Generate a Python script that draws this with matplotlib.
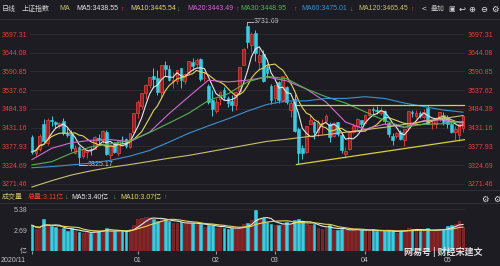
import matplotlib

matplotlib.use("Agg")

import matplotlib.pyplot as plt
import numpy as np
import pandas as pd

plt.rcParams["font.family"] = ["Liberation Sans", "Noto Sans CJK SC", "DejaVu Sans"]

# ---- data (SSE composite, daily) ----
dates = (
    [f"2020-11-{d:02d}" for d in (25, 26, 27, 30)]
    + [f"2020-12-{d:02d}" for d in (1, 2, 3, 4, 7, 8, 9, 10, 11, 14, 15, 16, 17, 18,
                                    21, 22, 23, 24, 25, 28, 29, 30, 31)]
    + [f"2021-01-{d:02d}" for d in (4, 5, 6, 7, 8, 11, 12, 13, 14, 15, 18, 19, 20, 21,
                                    22, 25, 26, 27, 28, 29)]
    + [f"2021-02-{d:02d}" for d in (1, 2, 3, 4, 5, 8, 9, 10, 18, 19, 22, 23, 24, 25, 26)]
    + [f"2021-03-{d:02d}" for d in (1, 2, 3, 4, 5, 8, 9, 10, 11, 12, 15, 16, 17, 18, 19,
                                    22, 23, 24, 25, 26, 29, 30, 31)]
    + [f"2021-04-{d:02d}" for d in (1, 2, 6, 7, 8, 9, 12, 13, 14, 15, 16, 19, 20, 21, 22,
                                    23, 26, 27, 28, 29, 30)]
    + [f"2021-05-{d:02d}" for d in (6, 7, 10, 11, 12)]
)

opens = [3404, 3358, 3371, 3440, 3388, 3453, 3446, 3437, 3449, 3414, 3412, 3360, 3375,
         3351, 3361, 3370, 3371, 3402, 3397, 3420, 3352, 3386, 3360, 3399, 3399, 3376,
         3419, 3474, 3493, 3530, 3552, 3577, 3572, 3531, 3609, 3597, 3565, 3564, 3601,
         3564, 3590, 3619, 3612, 3625, 3571, 3550, 3510, 3478, 3513, 3539, 3516, 3508,
         3496, 3535, 3610, 3720, 3666, 3700, 3619, 3640, 3603, 3550, 3516, 3561, 3509,
         3548, 3480, 3512, 3426, 3374, 3361, 3441, 3448, 3418, 3442, 3449, 3442, 3406,
         3447, 3410, 3356, 3370, 3420, 3437, 3452, 3444, 3468, 3484, 3480, 3474, 3479,
         3445, 3406, 3406, 3418, 3397, 3430, 3474, 3465, 3473, 3461, 3488, 3440, 3441,
         3457, 3466, 3459, 3442, 3419, 3410, 3430]
highs = [3409, 3373, 3412, 3456, 3457, 3465, 3451, 3447, 3459, 3429, 3424, 3382, 3378,
         3372, 3370, 3376, 3407, 3413, 3424, 3423, 3384, 3390, 3397, 3407, 3401, 3414,
         3474, 3511, 3528, 3556, 3576, 3600, 3594, 3609, 3620, 3608, 3588, 3596, 3601,
         3587, 3621, 3628, 3628, 3630, 3590, 3554, 3537, 3515, 3534, 3546, 3521, 3524,
         3535, 3604, 3658, 3731.69, 3702, 3709, 3658, 3651, 3612, 3555, 3552, 3565, 3577,
         3550, 3507, 3528, 3434, 3383, 3437, 3467, 3451, 3452, 3456, 3471, 3446, 3446,
         3447, 3418, 3375, 3422, 3443, 3457, 3453, 3470, 3484, 3491, 3492, 3491, 3482,
         3448, 3416, 3420, 3425, 3427, 3478, 3481, 3480, 3479, 3484, 3496, 3449, 3460,
         3475, 3475, 3466, 3451, 3435, 3443, 3466]
lows = [3357, 3350, 3364, 3390, 3382, 3435, 3430, 3430, 3411, 3405, 3365, 3357, 3325.17,
        3346, 3344, 3354, 3370, 3385, 3388, 3352, 3343, 3360, 3350, 3384, 3372, 3374,
        3417, 3457, 3485, 3513, 3545, 3544, 3525, 3515, 3578, 3564, 3544, 3554, 3543,
        3556, 3583, 3596, 3603, 3564, 3565, 3497, 3464, 3474, 3495, 3510, 3491, 3479,
        3482, 3535, 3609, 3657, 3647, 3620, 3598, 3560, 3572, 3497, 3502, 3501, 3505,
        3497, 3462, 3418, 3328, 3343, 3358, 3440, 3400, 3408, 3412, 3448, 3389, 3404,
        3407, 3360, 3345, 3368, 3417, 3425, 3432, 3444, 3463, 3464, 3469, 3466, 3442,
        3405, 3382, 3401, 3397, 3378, 3425, 3462, 3458, 3459, 3455, 3440, 3426, 3430,
        3451, 3439, 3431, 3416, 3395, 3394, 3418]
closes = [3362.33, 3369.73, 3408.31, 3391.76, 3451.94, 3449.38, 3442.14, 3444.58,
          3416.60, 3410.18, 3371.96, 3373.28, 3347.19, 3369.12, 3367.23, 3366.98,
          3404.87, 3394.90, 3420.57, 3356.78, 3382.32, 3363.11, 3396.56, 3397.29,
          3379.04, 3414.45, 3473.07, 3502.96, 3528.68, 3550.88, 3576.20, 3570.11,
          3531.50, 3608.34, 3598.65, 3565.90, 3566.38, 3596.22, 3566.12, 3583.09,
          3621.26, 3606.75, 3624.24, 3569.43, 3573.34, 3505.18, 3483.07, 3505.28,
          3533.68, 3517.31, 3501.86, 3496.33, 3532.44, 3603.49, 3655.09, 3675.36,
          3696.17, 3642.44, 3636.36, 3564.08, 3585.05, 3509.08, 3551.40, 3508.59,
          3576.90, 3503.49, 3501.99, 3421.41, 3359.29, 3357.74, 3436.83, 3453.08,
          3419.95, 3446.73, 3445.55, 3463.07, 3404.66, 3443.44, 3411.51, 3367.06,
          3363.59, 3418.33, 3435.30, 3456.68, 3441.91, 3466.33, 3484.39, 3482.48,
          3479.63, 3482.55, 3450.68, 3412.95, 3396.47, 3416.78, 3398.99, 3426.62,
          3477.55, 3472.94, 3472.93, 3465.11, 3474.17, 3441.17, 3442.61, 3457.07,
          3474.90, 3446.86, 3441.28, 3418.87, 3427.99, 3441.85, 3462.75]
# volume, 亿
volumes = [3.30, 2.85, 2.95, 4.10, 3.40, 3.15, 3.10, 2.80, 2.90, 2.60, 2.95,
           2.55, 2.40, 2.30, 2.40, 2.25, 2.70, 2.60, 2.75, 3.00, 2.55,
           2.50, 2.45, 2.55, 2.50, 2.80, 3.30, 4.15, 4.20, 4.40, 4.35,
           4.10, 3.85, 4.20, 4.05, 3.80, 3.55, 3.60, 3.70, 3.40, 3.65,
           3.55, 3.50, 3.45, 3.10, 3.35, 3.30, 2.95, 3.05, 3.00, 2.85,
           2.95, 2.80, 3.05, 3.40, 3.55, 4.00, 5.25, 4.20, 4.20, 3.75,
           3.45, 3.30, 3.35, 3.50, 3.70, 3.40, 4.00, 4.10, 3.75, 3.45,
           3.35, 3.40, 3.00, 2.80, 2.95, 3.30, 2.75, 2.65, 2.85, 2.70,
           2.60, 2.75, 2.80, 2.65, 2.55, 2.65, 2.80, 2.50, 2.45, 2.55,
           2.70, 2.60, 2.25, 2.60, 2.65, 2.95, 2.85, 2.70, 2.60, 2.55,
           2.90, 2.60, 2.60, 2.80, 2.80, 3.20, 3.30, 3.50, 3.89, 3.11]

# longer moving averages every 5 sessions
ma20 = [3340, 3372, 3388, 3395, 3397, 3391, 3418, 3471, 3519, 3566, 3561, 3566,
        3575, 3564, 3541, 3504, 3447, 3426, 3441, 3432, 3451, 3453, 3443.49]
ma30 = [3325, 3334, 3358, 3376, 3385, 3394, 3417, 3444, 3472, 3508, 3527, 3561,
        3577, 3570, 3541, 3519, 3501, 3476, 3451, 3432, 3441, 3442, 3448.95]
ma60 = [3317, 3320, 3325, 3330, 3338, 3350, 3366, 3390, 3415, 3436, 3456, 3478,
        3497, 3507, 3507, 3514, 3514, 3519, 3514, 3501, 3491, 3481, 3475.01]
ma120 = [3262, 3280, 3296, 3308, 3318, 3326, 3335, 3344, 3352, 3362, 3372, 3382,
         3392, 3398, 3405, 3411, 3418, 3425, 3432, 3440, 3449, 3457, 3465.45]

price_ticks = [3271.46, 3324.69, 3377.93, 3431.16, 3484.39, 3537.62, 3590.85,
               3644.08, 3697.31]
month_labels = ["2020/11", "01", "02", "03", "04", "05"]

# hand-drawn support / resistance lines
resistance = 3495
support_start = ("2021-03-09", 3326)
support_end = 3397

BG = "#1c1c22"
GRID = "#2d2d35"
RED_TXT = "#e5443f"
UP_EDGE = "#df3b3b"
UP_FILL = "#8e2626"
DOWN = "#3ccbe0"
MA_COLORS = {"MA5": "#e8e8e8", "MA10": "#e2d65a", "MA20": "#d26bd0",
             "MA30": "#55b350", "MA60": "#3a93d3", "MA120": "#cbbf74"}
W, H = 500, 266


def fx(x):
    return x / W


def fy(y):
    return 1 - y / H


def main():
    df = pd.DataFrame({"date": pd.to_datetime(dates), "open": opens, "high": highs,
                       "low": lows, "close": closes, "vol": volumes})
    idx = np.arange(len(df))
    up = df["close"] >= df["open"]
    ma5 = df["close"].rolling(5, min_periods=1).mean()
    ma10 = df["close"].rolling(10, min_periods=1).mean()
    vma5 = df["vol"].rolling(5, min_periods=1).mean()
    vma10 = df["vol"].rolling(10, min_periods=1).mean()
    sample_x = idx[::5]

    fig = plt.figure(figsize=(W / 100, H / 100), dpi=100)
    fig.patch.set_facecolor(BG)

    ax = fig.add_axes([fx(30), fy(190), fx(435), 171 / H])
    axv = fig.add_axes([fx(30), fy(251), fx(435), 48 / H])
    for a in (ax, axv):
        a.set_facecolor(BG)
        for s in a.spines.values():
            s.set_visible(False)
        a.set_xlim(-0.5, len(df) - 0.5)
        a.tick_params(length=0)

    # candles
    body_lo = np.minimum(df["open"], df["close"])
    body_h = np.maximum((df["close"] - df["open"]).abs(), 1.2)
    ax.vlines(idx[up], df["low"][up], df["high"][up], color=UP_EDGE, lw=0.7, zorder=2)
    ax.vlines(idx[~up], df["low"][~up], df["high"][~up], color=DOWN, lw=0.7, zorder=2)
    ax.bar(idx[up], body_h[up], bottom=body_lo[up], width=0.7, color=UP_FILL,
           edgecolor=UP_EDGE, linewidth=0.6, zorder=3)
    ax.bar(idx[~up], body_h[~up], bottom=body_lo[~up], width=0.7, color=DOWN,
           edgecolor=DOWN, linewidth=0.4, zorder=3)

    # moving averages
    ax.plot(idx, ma5, color=MA_COLORS["MA5"], lw=0.8, zorder=4)
    ax.plot(idx, ma10, color=MA_COLORS["MA10"], lw=0.8, zorder=4)
    ax.plot(sample_x, ma20, color=MA_COLORS["MA20"], lw=0.8, zorder=4)
    ax.plot(sample_x, ma30, color=MA_COLORS["MA30"], lw=0.8, zorder=4)
    ax.plot(sample_x, ma60, color=MA_COLORS["MA60"], lw=0.8, zorder=4)
    ax.plot(sample_x, ma120, color=MA_COLORS["MA120"], lw=0.8, zorder=4)

    # drawn lines
    s0 = dates.index(support_start[0])
    ax.plot([s0 - 0.5, len(df) - 0.5], [resistance, resistance], color="#d9d03c",
            lw=0.9, zorder=4)
    ax.plot([s0 - 0.5, len(df) - 0.5], [support_start[1], support_end],
            color="#d9d03c", lw=0.9, zorder=4)

    # extremes
    hi = int(np.argmax(df["high"]))
    lo = int(np.argmin(df["low"]))
    ax.plot([hi, hi + 1.4], [df["high"][hi]] * 2, color="#cfcfcf", lw=0.6)
    ax.text(hi + 1.5, df["high"][hi], f"{df['high'][hi]:.2f}", color="#cfcfcf",
            fontsize=5, va="center", ha="left")
    ax.plot([lo, lo + 2.0], [df["low"][lo]] * 2, color="#cfcfcf", lw=0.6)
    ax.text(lo + 2.2, df["low"][lo], f"{df['low'][lo]:.2f}", color="#cfcfcf",
            fontsize=5, va="center", ha="left")

    ax.set_ylim(3253.6, 3740.0)
    ax.set_yticks(price_ticks)
    ax.set_yticklabels([f"{t:.2f}" for t in price_ticks])
    ax.tick_params(axis="y", labelleft=True, labelright=True, labelsize=5,
                   labelcolor=RED_TXT, pad=2)
    ax.set_xticks([])
    ax.grid(axis="y", color=GRID, lw=0.6)
    ax.set_axisbelow(True)

    # volume
    vcol_face = np.where(up, "#7a1f22", DOWN)
    vcol_edge = np.where(up, "#a83232", DOWN)
    axv.bar(idx, df["vol"], width=0.7, color=vcol_face, edgecolor=vcol_edge,
            linewidth=0.4, zorder=2)
    axv.plot(idx, vma5, color="#e8e8e8", lw=0.8, zorder=3)
    axv.plot(idx, vma10, color="#e2d65a", lw=0.8, zorder=3)
    axv.set_ylim(0, 6.15)
    axv.set_yticks([0, 2.69, 5.38])
    axv.set_yticklabels(["亿", "2.69", "5.38"])
    axv.tick_params(axis="y", labelsize=5, labelcolor="#bdbdbd", pad=2)
    axv.grid(axis="y", color=GRID, lw=0.6)
    axv.set_axisbelow(True)

    # month ticks
    month = df["date"].dt.to_period("M")
    starts = [0] + [i for i in range(1, len(df)) if month[i] != month[i - 1]
                    and df["date"][i].month != 12]
    axv.set_xticks(starts)
    axv.set_xticklabels([""] + month_labels[1:])
    axv.tick_params(axis="x", length=2, color="#9a9a9a", labelsize=5,
                    labelcolor="#c8c8c8", pad=2)
    fig.text(fx(1), fy(260), month_labels[0], fontsize=5, color="#c8c8c8",
             ha="left", va="center")

    # frame lines
    for y in (19, 190, 203):
        fig.add_artist(plt.Line2D([0, 1], [fy(y), fy(y)], color="#34343c", lw=0.6))

    # header row
    hdr = [
        (2, "日线", "#d8d8d8"), (22, "上证指数", "#d8d8d8"), (59, "MA", "#cbbf74"),
        (76, "MA5:3438.55", MA_COLORS["MA5"]), (130, "MA10:3445.54", MA_COLORS["MA10"]),
        (187, "MA20:3443.49", MA_COLORS["MA20"]), (240, "MA30:3448.95", MA_COLORS["MA30"]),
        (301, "MA60:3475.01", MA_COLORS["MA60"]), (358, "MA120:3465.45", MA_COLORS["MA120"]),
    ]
    for x, s, c in hdr:
        fig.text(fx(x), fy(9), s, fontsize=5, color=c, ha="left", va="center")
    for x, a, c in [(120, "↑", "#e5443f"), (176, "↓", "#3fbf4a"), (235, "↑", "#e5443f"),
                    (293, "↑", "#e5443f"), (349, "↓", "#3fbf4a"), (410, "↑", "#e5443f")]:
        fig.text(fx(x), fy(9), a, fontsize=5, color=c, ha="left", va="center",
                 fontweight="bold")
    fig.text(fx(422), fy(9), "<", fontsize=6, color="#e0e0e0", ha="left", va="center")
    fig.text(fx(431), fy(9), "叠加", fontsize=5, color="#bdbdbd", ha="left", va="center")
    for x, s in [(462, "↩"), (472, "⊕"), (484, "⊖"), (495, "⚙")]:
        fig.text(fx(x), fy(9), s, fontsize=6, color="#e6e6e6", ha="center",
                 va="center", family="DejaVu Sans")
    fig.text(fx(452), fy(9), "▣", fontsize=5, color="#d0d0d0", ha="center",
             va="center", family="DejaVu Sans")

    # volume header
    vh = [(2, "成交量", "#cbbf74"), (28, "总量:3.11亿", RED_TXT), (71, "MA5:3.40亿", "#e8e8e8"),
          (120, "MA10:3.07亿", "#e2d65a")]
    for x, s, c in vh:
        fig.text(fx(x), fy(197), s, fontsize=5, color=c, ha="left", va="center")
    for x, a, c in [(64, "↓", "#3fbf4a"), (112, "↓", "#3fbf4a"), (163, "↑", "#e5443f")]:
        fig.text(fx(x), fy(197), a, fontsize=5, color=c, ha="left", va="center",
                 fontweight="bold")
    for x in (485, 497):
        fig.text(fx(x), fy(199), "⚙", fontsize=6, color="#e6e6e6", ha="center",
                 va="center", family="DejaVu Sans")

    fig.text(fx(443), fy(252), "网易号 | 财经宋建文", fontsize=6.5, color="#f2f2f2",
             ha="center", va="center", family=["Noto Sans CJK SC", "DejaVu Sans"],
             fontweight="bold", alpha=0.9)

    fig.savefig("out.png", dpi=100, facecolor=BG)


if __name__ == "__main__":
    main()
